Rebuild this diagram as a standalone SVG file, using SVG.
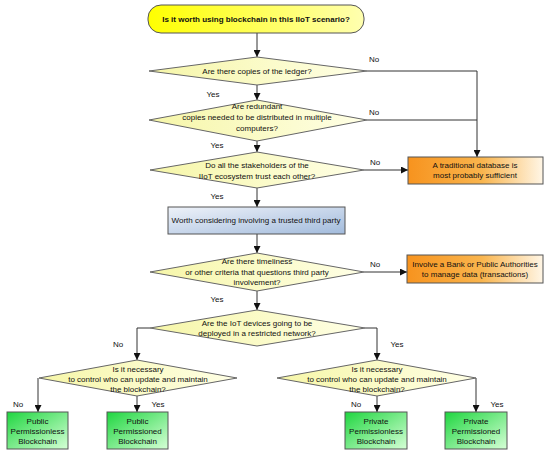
<svg xmlns="http://www.w3.org/2000/svg" width="550" height="455" viewBox="0 0 550 455">
<defs>
<linearGradient id="gTitle" x1="0" y1="0" x2="1" y2="0"><stop offset="0" stop-color="#ffff00"/><stop offset="1" stop-color="#ffffb0"/></linearGradient>
<linearGradient id="gDia" x1="0" y1="0" x2="1" y2="0"><stop offset="0" stop-color="#f6f6a8"/><stop offset="1" stop-color="#ffffe6"/></linearGradient>
<linearGradient id="gOrange" x1="0" y1="0" x2="1" y2="0"><stop offset="0" stop-color="#f7931e"/><stop offset="0.55" stop-color="#f9b54e"/><stop offset="1" stop-color="#fff6e6"/></linearGradient>
<linearGradient id="gBlue" x1="0" y1="0" x2="1" y2="1"><stop offset="0" stop-color="#eef2f9"/><stop offset="1" stop-color="#a2bbdc"/></linearGradient>
<linearGradient id="gGreen" x1="0" y1="0" x2="1" y2="1"><stop offset="0" stop-color="#1fd640"/><stop offset="1" stop-color="#d6ffd6"/></linearGradient>
<marker id="arr" viewBox="0 0 10 10" refX="10" refY="5" markerWidth="7" markerHeight="7" orient="auto" markerUnits="userSpaceOnUse"><path d="M0,0 L10,5 L0,10 z" fill="#111"/></marker>
</defs>
<style>
text{font-family:"Liberation Sans",Arial,sans-serif;font-size:8px;fill:#111;text-anchor:middle}
.lbl{text-anchor:middle}
.t{font-weight:bold}
.dia{fill:url(#gDia);stroke:#666;stroke-width:1}
.box{stroke:#555;stroke-width:1}
.c{fill:none;stroke:#333;stroke-width:1}
.ca{fill:none;stroke:#333;stroke-width:1;marker-end:url(#arr)}
</style>
<rect width="550" height="455" fill="#ffffff"/>
<g id="connectors">
<path class="ca" d="M257,33 V57"/>
<path class="ca" d="M257,85 V100"/>
<path class="ca" d="M257,141 V152"/>
<path class="ca" d="M257,188 V207"/>
<path class="ca" d="M257,234 V253"/>
<path class="ca" d="M257,291 V310"/>
<path class="c" d="M367,71 H477 V120"/>
<path class="ca" d="M367,120 H477 V157"/>
<path class="ca" d="M364,170 H408"/>
<path class="ca" d="M364,272 H407"/>
<path class="ca" d="M150,328 H137 V360"/>
<path class="ca" d="M365,328 H377 V360"/>
<path class="ca" d="M38,378 V412"/>
<path class="ca" d="M137,396 V412"/>
<path class="ca" d="M377,396 V412"/>
<path class="ca" d="M476,378 V412"/>
<text x="374" y="62">No</text>
<text x="374" y="115">No</text>
<text x="375" y="165">No</text>
<text x="375" y="267">No</text>
<text x="213" y="97">Yes</text>
<text x="217" y="148">Yes</text>
<text x="217" y="199">Yes</text>
<text x="217" y="302">Yes</text>
<text x="118" y="347">No</text>
<text x="397" y="347">Yes</text>
<text x="18" y="407">No</text>
<text x="158" y="407">Yes</text>
<text x="356" y="407">No</text>
<text x="497" y="407">Yes</text>
</g>
<g id="n_title">
<rect x="148" y="5" width="216" height="28" rx="13" fill="url(#gTitle)" stroke="#555"/>
<text class="t" x="256" y="22">Is it worth using blockchain in this IIoT scenario?</text>
</g>
<g id="n_copies">
<polygon class="dia" points="257,57 367,71 257,85 149,71"/>
<text x="257" y="74">Are there copies of the ledger?</text>
</g>
<g id="n_redundant">
<polygon class="dia" points="257,100 367,120 257,141 149,120"/>
<text x="257" y="109">Are redundant</text>
<text x="257" y="120">copies needed to be distributed in multiple</text>
<text x="257" y="131">computers?</text>
</g>
<g id="n_trust">
<polygon class="dia" points="257,152 364,170 257,188 150,170"/>
<text x="257" y="168">Do all the stakeholders of the</text>
<text x="257" y="179">IIoT ecosystem trust each other?</text>
</g>
<g id="n_database">
<rect class="box" x="408" y="157" width="135" height="27" fill="url(#gOrange)"/>
<text x="475" y="168">A traditional database is</text>
<text x="475" y="178">most probably sufficient</text>
</g>
<g id="n_thirdparty">
<rect class="box" x="168" y="207" width="177" height="27" fill="url(#gBlue)"/>
<text x="256" y="223">Worth considering involving a trusted third party</text>
</g>
<g id="n_timeliness">
<polygon class="dia" points="257,253 364,272 257,291 150,272"/>
<text x="257" y="264">Are there timeliness</text>
<text x="257" y="275">or other criteria that questions third party</text>
<text x="257" y="285">involvement?</text>
</g>
<g id="n_bank">
<rect class="box" x="407" y="255" width="136" height="28" fill="url(#gOrange)"/>
<text x="475" y="267">Involve a Bank or Public Authorities</text>
<text x="475" y="277">to manage data (transactions)</text>
</g>
<g id="n_restricted">
<polygon class="dia" points="257,310 365,328 257,346 150,328"/>
<text x="257" y="326">Are the IoT devices going to be</text>
<text x="257" y="336">deployed in a restricted network?</text>
</g>
<g id="n_control_left">
<polygon class="dia" points="137,360 237,378 137,396 39,378"/>
<text x="138" y="372">Is it necessary</text>
<text x="138" y="382">to control who can update and maintain</text>
<text x="138" y="392">the blockchain?</text>
</g>
<g id="n_control_right">
<polygon class="dia" points="377,360 476,378 377,396 277,378"/>
<text x="377" y="372">Is it necessary</text>
<text x="377" y="382">to control who can update and maintain</text>
<text x="377" y="392">the blockchain?</text>
</g>
<g id="n_pub_less">
<rect class="box" x="7" y="412" width="61" height="37" fill="url(#gGreen)"/>
<text x="37.5" y="424">Public</text>
<text x="37.5" y="434">Permissionless</text>
<text x="37.5" y="444">Blockchain</text>
</g>
<g id="n_pub_ed">
<rect class="box" x="107" y="412" width="61" height="37" fill="url(#gGreen)"/>
<text x="137.5" y="424">Public</text>
<text x="137.5" y="434">Permissioned</text>
<text x="137.5" y="444">Blockchain</text>
</g>
<g id="n_priv_less">
<rect class="box" x="345" y="412" width="62" height="37" fill="url(#gGreen)"/>
<text x="376" y="424">Private</text>
<text x="376" y="434">Permissionless</text>
<text x="376" y="444">Blockchain</text>
</g>
<g id="n_priv_ed">
<rect class="box" x="445" y="412" width="62" height="37" fill="url(#gGreen)"/>
<text x="476" y="424">Private</text>
<text x="476" y="434">Permissioned</text>
<text x="476" y="444">Blockchain</text>
</g>
</svg>
